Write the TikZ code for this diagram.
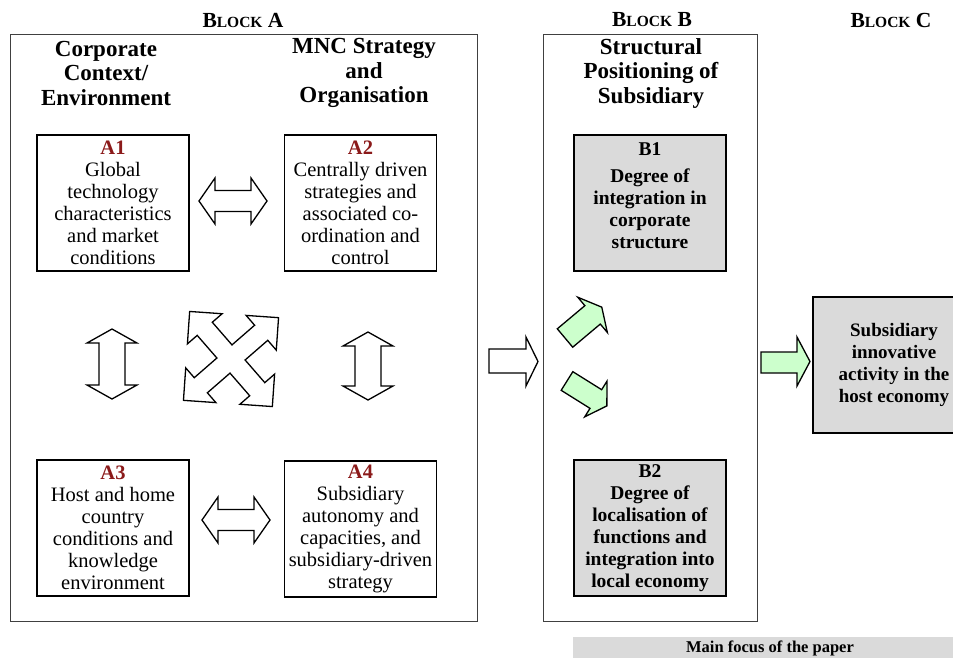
\documentclass[tikz,border=0pt]{standalone}
\usepackage{fontspec}
\setmainfont{Liberation Serif}
\usetikzlibrary{positioning}
\definecolor{labelred}{RGB}{139,26,26}
\definecolor{focusgrey}{RGB}{218,218,218}
\definecolor{arrowgreen}{RGB}{204,255,204}
\newcommand{\alabel}[1]{\textcolor{labelred}{\bfseries #1}}
\newcommand{\blk}[1]{B{\fontsize{15.5}{15.5}\selectfont LOCK} #1}
\tikzset{
  frame/.style={draw=black!75, line width=1pt},
  abox/.style={draw, line width=1.2pt, minimum width=152, minimum height=136,
    align=center, inner sep=0pt, font=\fontsize{20.5}{22}\selectfont},
  bbox/.style={abox, fill=focusgrey, font=\bfseries\fontsize{19.5}{22}\selectfont},
  btext/.style={align=center, inner sep=0pt, font=\bfseries\fontsize{19.5}{22}\selectfont},
  blocktitle/.style={font=\bfseries\fontsize{21.5}{22}\selectfont},
  coltitle/.style={align=center, font=\bfseries\fontsize{23}{24.5}\selectfont},
  fatarrow/.style={draw, line width=1.3pt, line join=miter, fill=white},
  greenarrow/.style={fatarrow, fill=arrowgreen},
}
\begin{document}
\begin{tikzpicture}[x=1pt, y=-1pt]
  \useasboundingbox (0,0) rectangle (953,657);
  % block titles and frames
  \node[blocktitle] (blkA) at (243,20) {\blk{A}};
  \node[blocktitle] (blkB) at (652,20) {\blk{B}};
  \node[blocktitle] (blkC) at (891,20) {\blk{C}};
  \draw[frame] (10,34) rectangle (477,621);
  \draw[frame] (543,34) rectangle (757,621);
  \node[coltitle] (ctx) at (106,73) {Corporate\\Context/\\Environment};
  \node[coltitle] (mnc) at (364,73) {MNC Strategy\\and\\Organisation};
  \node[coltitle] (spos) at (651,73) {Structural\\Positioning of\\Subsidiary};
  % block A
  \node[abox] (a1) at (113,203) {\alabel{A1}\\Global\\technology\\characteristics\\and market\\conditions};
  \node[abox] (a2) at (360.5,203) {\alabel{A2}\\Centrally driven\\strategies and\\associated co-\\ordination and\\control};
  \node[abox] (a3) at (113,528) {\alabel{A3}\\Host and home\\country\\conditions and\\knowledge\\environment};
  \node[abox] (a4) at (360.5,529) {\alabel{A4}\\Subsidiary\\autonomy and\\capacities, and\\subsidiary-driven\\strategy};
  \foreach \y/\l/\r in {201/199/267, 520/202/270}{
    \draw[fatarrow] (\l,\y) -- (\l+16,\y-23) -- (\l+16,\y-10.5) -- (\r-16,\y-10.5)
      -- (\r-16,\y-23) -- (\r,\y) -- (\r-16,\y+23) -- (\r-16,\y+10.5)
      -- (\l+16,\y+10.5) -- (\l+16,\y+23) -- cycle;
  }
  \foreach \x/\t/\b in {112/329/399, 368/332/400}{
    \draw[fatarrow] (\x,\t) -- (\x+25,\t+14) -- (\x+13,\t+14) -- (\x+13,\b-14)
      -- (\x+25,\b-14) -- (\x,\b) -- (\x-25,\b-14) -- (\x-13,\b-14)
      -- (\x-13,\t+14) -- (\x-25,\t+14) -- cycle;
  }
  \begin{scope}[shift={(231,359)}, rotate=41]
    \draw[fatarrow] (10,-10) -- (40,-10) -- (40,-23) -- (63,0) -- (40,23) -- (40,10)
      -- (10,10) -- (10,40) -- (23,40) -- (0,63) -- (-23,40) -- (-10,40)
      -- (-10,10) -- (-40,10) -- (-40,23) -- (-63,0) -- (-40,-23) -- (-40,-10)
      -- (-10,-10) -- (-10,-40) -- (-23,-40) -- (0,-63) -- (23,-40) -- (10,-40) -- cycle;
  \end{scope}
  % A to B
  \draw[fatarrow] (489,349) -- (526,349) -- (526,337) -- (538,361.5) -- (526,386)
    -- (526,373) -- (489,373) -- cycle;
  % block B
  \node[bbox] (b1) at (650,203) {};
  \node[btext, below=8pt of b1.north] (b1txt) {B1\\[5pt]Degree of\\integration in\\corporate\\structure};
  \node[bbox] (b2) at (650,528) {B2\\Degree of\\localisation of\\functions and\\integration into\\local economy};
  \begin{scope}[shift={(565,338)}, rotate=40]
    \draw[greenarrow] (0,-12) -- (36,-12) -- (36,-23) -- (48,0) -- (36,23) -- (36,12) -- (0,12) -- cycle;
  \end{scope}
  \begin{scope}[shift={(567,381)}, rotate=-32]
    \draw[greenarrow] (0,-11) -- (34,-11) -- (34,-21) -- (47,0) -- (34,21) -- (34,11) -- (0,11) -- cycle;
  \end{scope}
  % B to C
  \draw[greenarrow] (761,352) -- (797,352) -- (797,337) -- (810,361.5) -- (797,386)
    -- (797,373) -- (761,373) -- cycle;
  \node[bbox, minimum width=170] (c) at (898,365) {};
  \node[btext, font=\bfseries\fontsize{19}{22}\selectfont] (ctxt) at (894,365)
    {Subsidiary\\innovative\\activity in the\\host economy};
  % legend
  \node[fill=focusgrey, minimum width=394, minimum height=22, inner sep=0pt,
    font=\bfseries\fontsize{16.5}{18}\selectfont] (focus) at (770,648) {Main focus of the paper};
\end{tikzpicture}
\end{document}
